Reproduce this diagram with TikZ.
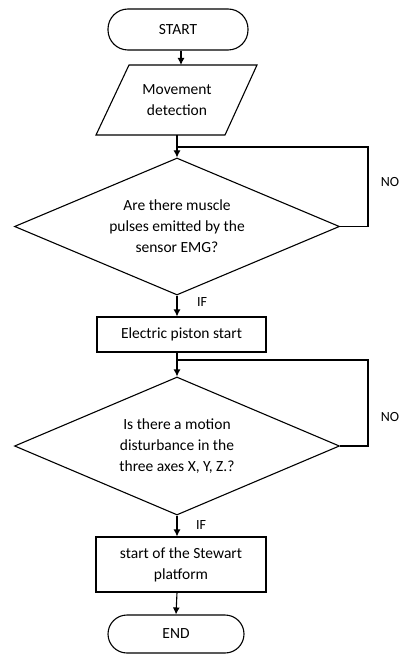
\documentclass[tikz,border=0pt]{standalone}
\usepackage{fontspec}
\setmainfont{Carlito}
\usetikzlibrary{shapes.geometric,arrows.meta}
\begin{document}
\begin{tikzpicture}[x=1pt,y=-1pt,
  every node/.style={font=\fontsize{15.5}{21}\selectfont, align=center, inner sep=0pt},
  term/.style={draw, line width=1.1pt},
  proc/.style={draw, line width=1.1pt},
  dec/.style={draw, line width=1.1pt, diamond, aspect=2.37},
  arr/.style={line width=1.1pt, -{Latex[length=7pt,width=7pt]}},
  ln/.style={line width=1.1pt},
  lbl/.style={font=\fontsize{14}{16}\selectfont}]
\useasboundingbox (0,0) rectangle (403,655);
\fill[white] (0,0) rectangle (403,655);
\node[term, rounded corners=20pt, minimum width=140pt, minimum height=41pt] (start) at (178,29.5) {START};
\node[minimum width=130pt, minimum height=70pt] (md) at (177,100) {Movement\\detection};
\draw[ln] (96,135) -- (129,65) -- (257,65) -- (225,135) -- cycle;
\node[dec, minimum width=325pt, minimum height=137pt] (d1) at (177,226.5) {Are there muscle\\pulses emitted by the\\sensor EMG?};
\node[proc, minimum width=169pt, minimum height=35pt] (b1) at (181.5,334.5) {Electric piston start};
\node[dec, minimum width=325pt, minimum height=138pt] (d2) at (177,446) {Is there a motion\\disturbance in the\\three axes X, Y, Z.?};
\node[proc, minimum width=170pt, minimum height=55pt] (b2) at (181,564.5) {start of the Stewart\\platform};
\node[term, rounded corners=19pt, minimum width=136pt, minimum height=38pt] (end) at (176,634) {END};
\node[lbl] (no1) at (390,182) {NO};
\node[lbl] (no2) at (390,417) {NO};
\node[lbl] (if1) at (202,302) {IF};
\node[lbl] (if2) at (201,525) {IF};
\coordinate (p1) at (181,65);
\coordinate (j1) at (177,147);
\coordinate (r1) at (368,147);
\coordinate (j2) at (177,360);
\coordinate (r2) at (368,360);
\draw[arr] (start.south -| p1) -- (p1);
\draw[arr] (md.south) -- (d1.north);
\draw[ln] (d1.east) -| (r1) -- (j1);
\draw[arr] (d1.south) -- (d1.south |- b1.north);
\draw[arr] (d1.south |- b1.south) -- (d2.north);
\draw[ln] (d2.east) -| (r2) -- (j2);
\draw[arr] (d2.south) -- (d2.south |- b2.north);
\draw[arr] (d2.south |- b2.south) -- (end.north);
\end{tikzpicture}
\end{document}
